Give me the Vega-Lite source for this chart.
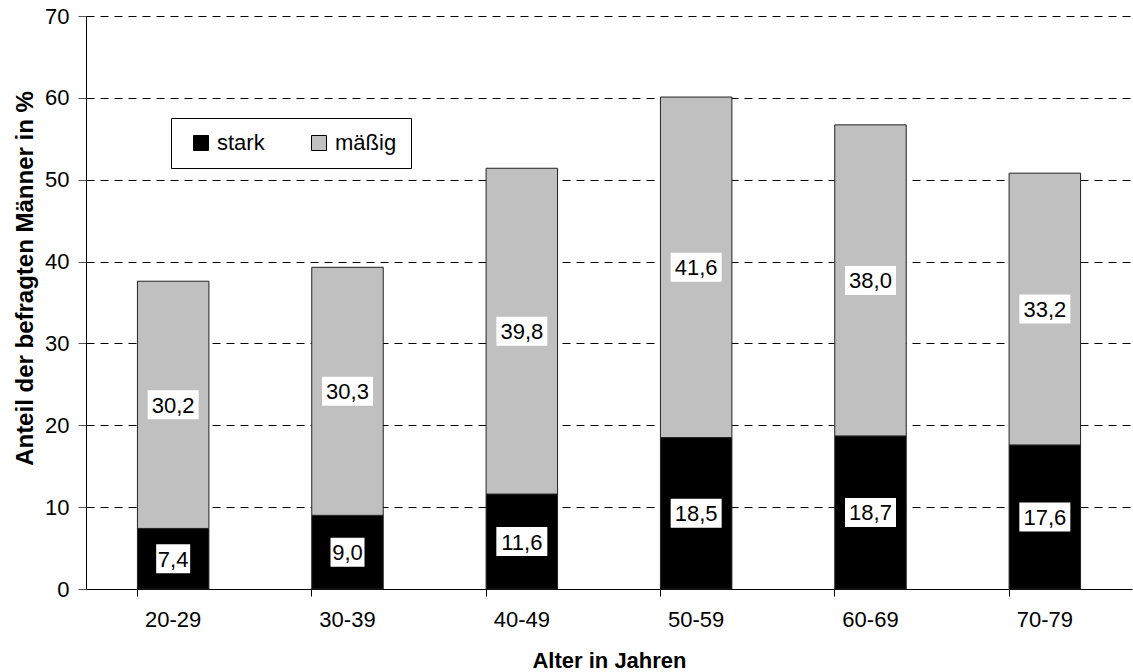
{
  "$schema": "https://vega.github.io/schema/vega-lite/v6.json",
  "width": 1046,
  "height": 573,
  "autosize": "none",
  "padding": {"left": 86, "top": 16, "right": 1, "bottom": 83},
  "background": "white",
  "config": {
    "font": "Liberation Sans",
    "view": {"stroke": null},
    "locale": {
      "number": {"decimal": ",", "thousands": ".", "grouping": [3], "currency": ["", " €"]}
    }
  },
  "data": {
    "values": [
      {"alter": "20-29", "segment": "stark", "value": 7.4},
      {"alter": "20-29", "segment": "mäßig", "value": 30.2},
      {"alter": "30-39", "segment": "stark", "value": 9.0},
      {"alter": "30-39", "segment": "mäßig", "value": 30.3},
      {"alter": "40-49", "segment": "stark", "value": 11.6},
      {"alter": "40-49", "segment": "mäßig", "value": 39.8},
      {"alter": "50-59", "segment": "stark", "value": 18.5},
      {"alter": "50-59", "segment": "mäßig", "value": 41.6},
      {"alter": "60-69", "segment": "stark", "value": 18.7},
      {"alter": "60-69", "segment": "mäßig", "value": 38.0},
      {"alter": "70-79", "segment": "stark", "value": 17.6},
      {"alter": "70-79", "segment": "mäßig", "value": 33.2}
    ]
  },
  "transform": [
    {
      "stack": "value",
      "groupby": ["alter"],
      "sort": [{"field": "segment", "order": "descending"}],
      "as": ["y0", "y1"]
    },
    {"calculate": "(datum.y0 + datum.y1) / 2", "as": "ymid"}
  ],
  "encoding": {
    "x": {
      "field": "alter",
      "type": "nominal",
      "sort": null,
      "scale": {"paddingInner": 0.59, "paddingOuter": 0.295},
      "axis": {
        "title": "Alter in Jahren",
        "labelAngle": 0,
        "labelFontSize": 22,
        "labelColor": "#000",
        "labelPadding": 13,
        "bandPosition": 0,
        "tickSize": 7,
        "tickColor": "#000",
        "domainColor": "#000",
        "titleFontSize": 22,
        "titleFontWeight": "bold",
        "titleColor": "#000",
        "titleBaseline": "alphabetic",
        "titleY": 78,
        "grid": false
      }
    }
  },
  "layer": [
    {
      "mark": {"type": "bar", "stroke": "#222", "strokeWidth": 1},
      "encoding": {
        "y": {
          "field": "y0",
          "type": "quantitative",
          "scale": {"domain": [0, 70], "nice": false},
          "axis": {
            "title": "Anteil der befragten Männer in %",
            "values": [0, 10, 20, 30, 40, 50, 60, 70],
            "labelFontSize": 22,
            "labelColor": "#000",
            "labelPadding": 9,
            "tickSize": 8,
            "tickColor": "#555",
            "domainColor": "#000",
            "grid": true,
            "gridColor": "#000",
            "gridDash": [8, 6],
            "gridWidth": 1,
            "titleFontSize": 24,
            "titleFontWeight": "bold",
            "titleColor": "#000",
            "titleAngle": 270,
            "titleBaseline": "middle",
            "titleAlign": "center",
            "titleX": -61,
            "titleY": 262
          }
        },
        "y2": {"field": "y1"},
        "color": {
          "field": "segment",
          "type": "nominal",
          "scale": {"domain": ["stark", "mäßig"], "range": ["#000000", "#c0c0c0"]},
          "legend": {
            "title": null,
            "orient": "none",
            "direction": "horizontal",
            "legendX": 85,
            "legendY": 102,
            "padding": 14,
            "strokeColor": "#000",
            "fillColor": "#fff",
            "symbolType": "square",
            "symbolSize": 225,
            "symbolStrokeColor": "#000",
            "symbolStrokeWidth": 1,
            "symbolOffset": 5,
            "labelFontSize": 22,
            "labelColor": "#000",
            "labelOffset": 5,
            "columnPadding": 38
          }
        }
      }
    },
    {
      "mark": {"type": "tick", "orient": "horizontal", "color": "#fff", "opacity": 1, "thickness": 29},
      "encoding": {
        "y": {"field": "ymid", "type": "quantitative"},
        "size": {
          "condition": {"test": "datum.value >= 10", "value": 51},
          "value": 34
        }
      }
    },
    {
      "mark": {"type": "text", "fontSize": 22, "color": "#000", "baseline": "middle", "dy": 1},
      "encoding": {
        "y": {"field": "ymid", "type": "quantitative"},
        "text": {"field": "value", "type": "quantitative", "format": ".1f"}
      }
    }
  ]
}
